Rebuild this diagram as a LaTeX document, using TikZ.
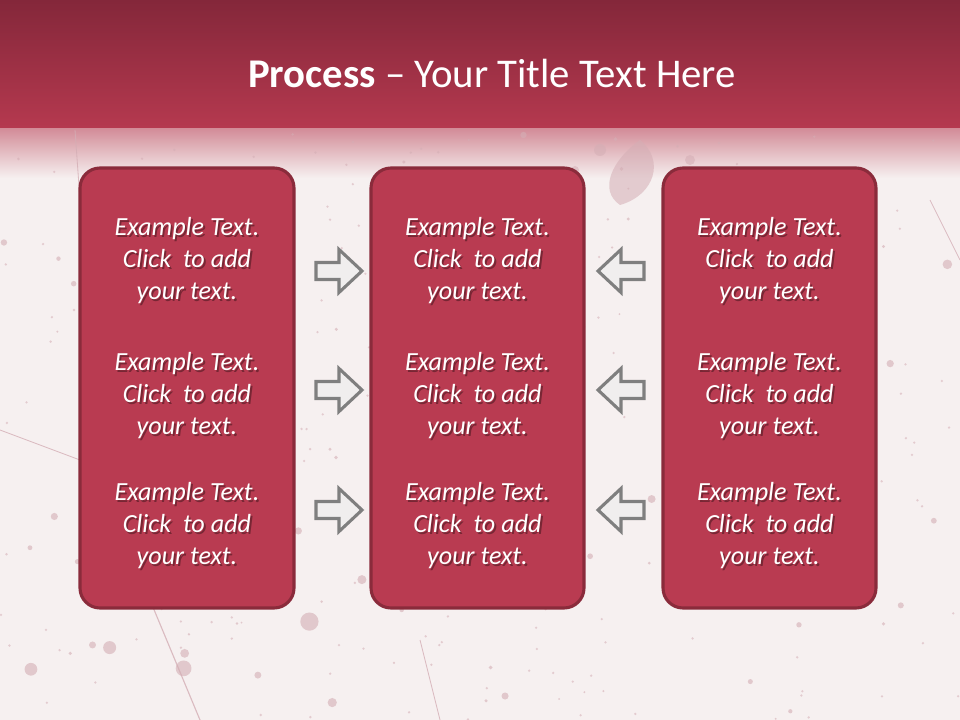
\documentclass[tikz,border=0pt]{standalone}
\usepackage{fontspec}
\setmainfont{Carlito}
\usetikzlibrary{calc}
\definecolor{bgc}{HTML}{F6F0F0}
\definecolor{hdtop}{HTML}{84273A}
\definecolor{hdbot}{HTML}{B5394F}
\definecolor{boxfill}{HTML}{B93B51}
\definecolor{boxline}{HTML}{8A2B3B}
\definecolor{splat}{HTML}{D4AEB5}
\definecolor{arrline}{HTML}{7F7F7F}
\definecolor{arrfill}{HTML}{F0EEEE}
\tikzset{
  stepbox/.style={draw=boxline, line width=2.2pt, fill=boxfill, rounded corners=20*0.025cm},
  txt/.style={align=center, text=white, font=\fontsize{18.6}{22.75}\selectfont\itshape, inner sep=0pt},
  txtshadow/.style={align=center, text=black!70!boxfill, opacity=0.5, font=\fontsize{18.6}{22.75}\selectfont\itshape, inner sep=0pt},
  blockarrow/.style={draw=arrline, line width=2.2pt, fill=arrfill, line join=miter},
}
\newcommand{\grouptext}[2]{%
  \node[txtshadow] at ($(#2)+(1.8,1.8)$) {Example Text.\\Click\ \ to add\\your text.};
  \node[txt] (#1) at (#2) {Example Text.\\Click\ \ to add\\your text.};
}
% right-pointing arrow at named coordinate #1; #2 = 1 (right) or -1 (left)
\newcommand{\blockarr}[2]{%
  \draw[blockarrow, shift={(#1)}, xscale=#2] (-23,-8.5) -- (0,-8.5) -- (0,-21.5) -- (23,0) -- (0,21.5) -- (0,8.5) -- (-23,8.5) -- cycle;
}
\begin{document}
\begin{tikzpicture}[x=0.025cm, y=-0.025cm]
\useasboundingbox (0,0) rectangle (960,720);
% background
\fill[bgc] (0,0) rectangle (960,720);
\shade[top color=hdbot!55!bgc, bottom color=bgc] (0,128) rectangle (960,178);
% splatter texture
\pgfmathsetseed{7}
\foreach \i in {1,...,110}{
  \pgfmathsetmacro{\px}{rnd*960}
  \pgfmathsetmacro{\py}{130+rnd*590}
  \pgfmathsetmacro{\pr}{1+rnd*rnd*9}
  \fill[splat, opacity=0.6] (\px,\py) circle (\pr);
}
\foreach \i in {1,...,220}{
  \pgfmathsetmacro{\px}{rnd*960}
  \pgfmathsetmacro{\py}{130+rnd*590}
  \fill[splat, opacity=0.55] (\px,\py) circle (1.3);
}
\fill[splat, opacity=0.55] (640,140) .. controls (665,160) and (655,195) .. (620,205) .. controls (598,190) and (612,160) .. (640,140);
\fill[splat, opacity=0.55] (600,150) circle (6) (575,170) circle (4) (690,160) circle (5);
\draw[splat, line width=0.8pt, opacity=0.8] (150,600) -- (200,720);
\draw[splat, line width=0.6pt, opacity=0.8] (0,430) -- (80,460);
\draw[splat, line width=0.6pt, opacity=0.8] (930,200) -- (960,260);
\draw[splat, line width=0.6pt, opacity=0.8] (420,640) -- (440,720);
\draw[splat, line width=0.6pt, opacity=0.8] (75,130) -- (80,200);
% header
\shade[top color=hdtop, bottom color=hdbot] (0,0) rectangle (960,128);
% title
\node[anchor=base, text=white, font=\fontsize{29}{34}\selectfont, inner sep=0pt] (title) at (492,88)
  {\textbf{Process} – Your Title Text Here};
% boxes
\draw[stepbox] (80,168) rectangle (294,608);
\node[inner sep=0pt] (boxL) at (187,388) {};
\draw[stepbox] (371,168) rectangle (584,608);
\node[inner sep=0pt] (boxM) at (477.5,388) {};
\draw[stepbox] (663,168) rectangle (876,608);
\node[inner sep=0pt] (boxR) at (769.5,388) {};
% texts
\coordinate (pL1) at (187,261);
\coordinate (pL2) at (187,396);
\coordinate (pL3) at (187,526);
\coordinate (pM1) at (477.5,261);
\coordinate (pM2) at (477.5,396);
\coordinate (pM3) at (477.5,526);
\coordinate (pR1) at (769.5,261);
\coordinate (pR2) at (769.5,396);
\coordinate (pR3) at (769.5,526);
\grouptext{tL1}{pL1}
\grouptext{tL2}{pL2}
\grouptext{tL3}{pL3}
\grouptext{tM1}{pM1}
\grouptext{tM2}{pM2}
\grouptext{tM3}{pM3}
\grouptext{tR1}{pR1}
\grouptext{tR2}{pR2}
\grouptext{tR3}{pR3}
% arrows
\coordinate (aL1) at (339,271);
\coordinate (aL2) at (339,390);
\coordinate (aL3) at (339,510);
\coordinate (aR1) at (621,271);
\coordinate (aR2) at (621,390);
\coordinate (aR3) at (621,510);
\blockarr{aL1}{1}
\blockarr{aL2}{1}
\blockarr{aL3}{1}
\blockarr{aR1}{-1}
\blockarr{aR2}{-1}
\blockarr{aR3}{-1}
\end{tikzpicture}
\end{document}
